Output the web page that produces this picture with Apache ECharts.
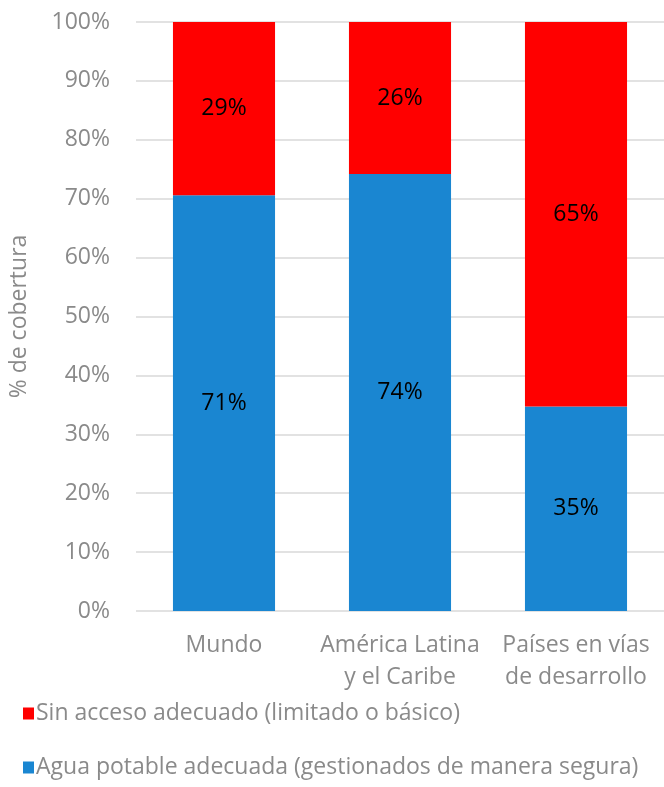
<!DOCTYPE html>
<html><head><meta charset="utf-8">
<script src="https://cdn.jsdelivr.net/npm/echarts@6/dist/echarts.min.js"></script>
<style>html,body{margin:0;padding:0;background:#fff}#c{width:664px;height:787px}</style>
</head><body><div id="c"></div>
<script>
const categories = ['Mundo', 'América Latina\ny el Caribe', 'Países en vías\nde desarrollo'];
const aguaAdecuada = [70.6, 74.2, 34.7];
const sinAcceso = [29.4, 25.8, 65.3];
const yTicks = [0,10,20,30,40,50,60,70,80,90,100];
const nameSin = 'Sin acceso adecuado (limitado o básico)';
const nameAgua = 'Agua potable adecuada (gestionados de manera segura)';
const FONT = 'Open Sans';
const gray = '#8a8a8a';
const FS = 23;
const chart = echarts.init(document.getElementById('c'));
chart.setOption({
  animation: false,
  textStyle: {fontFamily: FONT},
  grid: {left: 133, right: -4, top: 22, bottom: 176, containLabel: false},
  legend: {
    orient: 'vertical', left: 18, top: 697, itemGap: 31,
    itemWidth: 11, itemHeight: 12, icon: 'rect',
    data: [nameSin, nameAgua],
    textStyle: {fontFamily: FONT, fontSize: FS, color: gray, padding: [0,0,0,-3]}
  },
  xAxis: {
    type: 'category', data: categories,
    axisLine: {show: false}, axisTick: {show: false},
    axisLabel: {fontFamily: FONT, fontSize: FS, color: gray, margin: 18, lineHeight: 32, interval: 0}
  },
  yAxis: {
    type: 'value', min: 0, max: 100, interval: 10,
    name: '% de cobertura', nameLocation: 'middle', nameGap: 105,
    nameTextStyle: {fontFamily: FONT, fontSize: FS, color: gray},
    axisLabel: {fontFamily: FONT, fontSize: FS, color: gray, margin: 26,
      formatter: v => yTicks.includes(v) ? v + '%' : ''},
    splitLine: {lineStyle: {color: '#d9d9d9', width: 1.5}},
    axisLine: {show: false}, axisTick: {show: false}
  },
  series: [
    {name: nameAgua, type: 'bar', stack: 't', data: aguaAdecuada, barWidth: '58%',
     itemStyle: {color: '#1a86d1'},
     label: {show: true, position: 'inside', color: '#000', fontFamily: FONT, fontSize: FS,
       formatter: p => Math.round(p.value) + '%'}},
    {name: nameSin, type: 'bar', stack: 't', data: sinAcceso, barWidth: '58%',
     itemStyle: {color: '#ff0000'},
     label: {show: true, position: 'inside', color: '#000', fontFamily: FONT, fontSize: FS,
       formatter: p => Math.round(p.value) + '%'}}
  ]
});
</script></body></html>
